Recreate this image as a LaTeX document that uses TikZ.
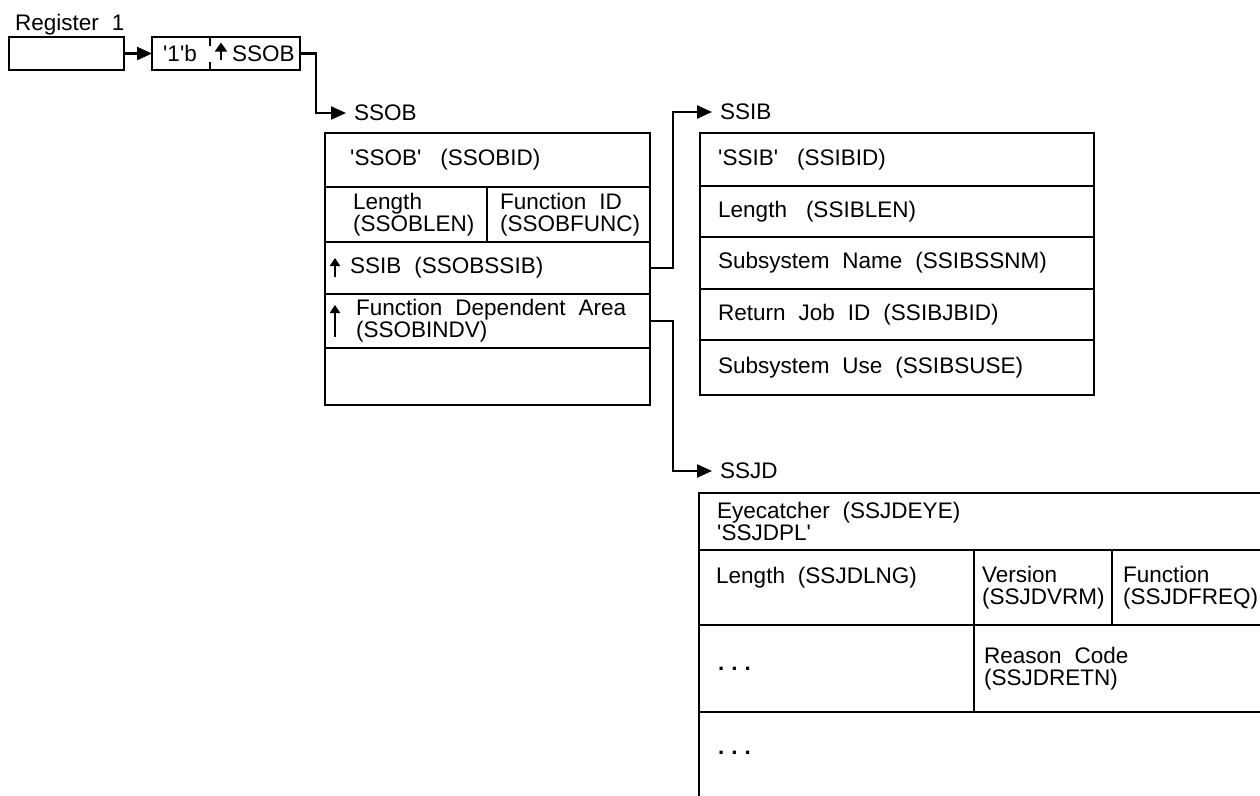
\documentclass[tikz,border=0pt]{standalone}
\usepackage{fontspec}
\setmainfont{Liberation Sans}[Ligatures=TeXOff]
\usetikzlibrary{arrows.meta,positioning}

\newcommand{\fsp}{\hspace{13pt}}
\newcommand{\wsp}{\hspace{19pt}}
\newcommand{\dotrow}{\textbf{.\hspace{7pt}.\hspace{7pt}.}}

\begin{document}
\begin{tikzpicture}[x=1pt,y=-1pt,
  font=\fontsize{22.5}{22}\selectfont,
  cell/.style n args={2}{draw, line width=2.4pt, outer sep=0pt, inner sep=0pt,
    anchor=north west, minimum width=#1pt, minimum height=#2pt},
  txt/.style={inner sep=0pt, align=left},
  conn/.style={line width=2.2pt, -{Triangle[length=15pt,width=13pt]}},
  ptr/.style={line width=1.8pt, -{Triangle[length=8pt,width=10pt]}}]
  \path[use as bounding box, clip] (0,0) rectangle (1260,795);

  % register 1 and its word
  \node[txt, anchor=base west] (reglabel) at (15,30) {Register\fsp 1};
  \node[cell={115}{33}] (reg) at (9,37) {};
  \node[cell={148}{33}] (regval) at (152,37) {};
  \node[txt, right=11pt of regval.west] (bitflag) {'1'b};
  \node[txt, right=80pt of regval.west] (ptrname) {SSOB};
  \draw[line width=1.6pt] ([xshift=58pt]regval.north west) -- ++(0pt,-9pt)
    ([xshift=58pt]regval.south west) -- ++(0pt,8pt);
  \draw[ptr, -{Triangle[length=9pt,width=12pt]}] ([xshift=69pt,yshift=-6pt]regval.west) -- ++(0pt,17pt);
  \draw[conn] (reg) -- (regval);

  % SSOB
  \node[txt, anchor=west] (ssoblabel) at (354,113) {SSOB};
  \draw[conn, shorten >=8pt] (regval.east) -- ++(16,0) |- (ssoblabel.west);
  \node[cell={325}{54}] (ssobid) at (325,133) {};
  \node[cell={162}{55}] (ssoblen) at (325,187) {};
  \node[cell={163}{55}] (ssobfunc) at (487,187) {};
  \node[cell={325}{52}] (ssobssib) at (325,242) {};
  \node[cell={325}{54}] (ssobindv) at (325,294) {};
  \node[cell={325}{57}] (ssobfree) at (325,348) {};
  \node[txt, right=25pt of ssobid.west] (ssobidtxt) {'SSOB'\wsp(SSOBID)};
  \node[txt, right=28pt of ssoblen.west] (ssoblentxt) {Length\\(SSOBLEN)};
  \node[txt, right=13pt of ssobfunc.west] (ssobfunctxt) {Function\fsp ID\\(SSOBFUNC)};
  \node[txt, right=25pt of ssobssib.west] (ssobssibtxt) {SSIB\fsp(SSOBSSIB)};
  \node[txt, right=31pt of ssobindv.west] (ssobindvtxt) {Function\fsp Dependent\fsp Area\\(SSOBINDV)};
  \draw[ptr] ([xshift=10pt,yshift=-9pt]ssobssib.west) -- ++(0pt,19pt);
  \draw[ptr] ([xshift=10pt,yshift=-16pt]ssobindv.west) -- ++(0pt,32pt);

  % SSIB
  \node[txt, anchor=west] (ssiblabel) at (720,112) {SSIB};
  \draw[conn, shorten >=8pt] (ssobssib.east) -- ++(23,0) |- (ssiblabel.west);
  \foreach \i/\y/\h/\txt in {1/133/53/{'SSIB'\wsp(SSIBID)},
      2/186/51/{Length\wsp(SSIBLEN)},
      3/237/52/{Subsystem\fsp Name\fsp(SSIBSSNM)},
      4/289/51/{Return\fsp Job\fsp ID\fsp(SSIBJBID)},
      5/340/55/{Subsystem\fsp Use\fsp(SSIBSUSE)}} {
    \node[cell={394}{\h}] (ssib\i) at (700,\y) {};
    \node[txt, right=18pt of ssib\i.west] (ssibtxt\i) {\txt};
  }

  % SSJD
  \node[txt, anchor=west] (ssjdlabel) at (720,471) {SSJD};
  \draw[conn, shorten >=8pt] (ssobindv.east) -- ++(23,0) |- (ssjdlabel.west);
  \node[cell={600}{57}] (ssjdeye) at (699,493) {};
  \node[cell={275}{75}] (ssjdlng) at (699,550) {};
  \node[cell={138}{75}] (ssjdvrm) at (974,550) {};
  \node[cell={200}{75}] (ssjdfreq) at (1112,550) {};
  \node[cell={275}{87}] (ssjdmore) at (699,625) {};
  \node[cell={325}{87}] (ssjdretn) at (974,625) {};
  \node[cell={600}{88}] (ssjdrest) at (699,712) {};
  \node[txt, right=18pt of ssjdeye.west] (ssjdeyetxt) {Eyecatcher\fsp(SSJDEYE)\\'SSJDPL'};
  \node[txt, right=17pt of ssjdlng.west, yshift=10pt] (ssjdlngtxt) {Length\fsp(SSJDLNG)};
  \node[txt, right=8pt of ssjdvrm.west] (ssjdvrmtxt) {Version\\(SSJDVRM)};
  \node[txt, right=11pt of ssjdfreq.west] (ssjdfreqtxt) {Function\\(SSJDFREQ)};
  \node[txt, right=19pt of ssjdmore.west] (ssjdmoretxt) {\dotrow};
  \node[txt, right=10pt of ssjdretn.west] (ssjdretntxt) {Reason\fsp Code\\(SSJDRETN)};
  \node[txt, right=19pt of ssjdrest.west, yshift=3pt] (ssjdresttxt) {\dotrow};
\end{tikzpicture}
\end{document}
